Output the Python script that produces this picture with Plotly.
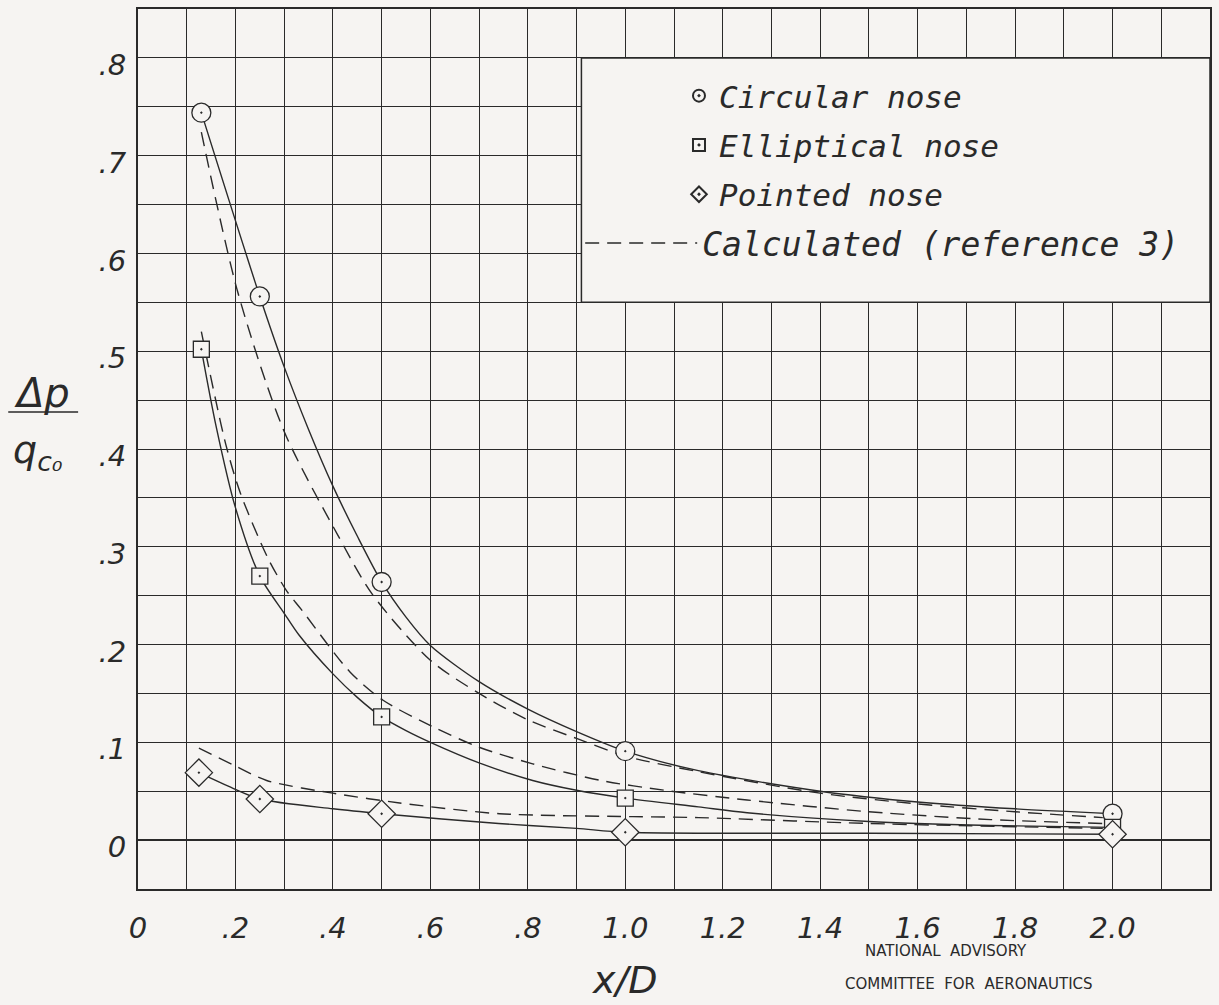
import plotly.graph_objects as go

# ---------------- data ----------------
circle_x = [0.13, 0.25, 0.50, 1.00, 2.00]
circle_y = [0.744, 0.556, 0.264, 0.091, 0.027]
square_x = [0.13, 0.25, 0.50, 1.00, 2.00]
square_y = [0.502, 0.270, 0.126, 0.043, 0.013]
diamond_x = [0.125, 0.25, 0.50, 1.00, 2.00]
diamond_y = [0.069, 0.042, 0.027, 0.008, 0.006]

# faired (solid) curves through the test points
circle_fair_x = [0.13, 0.25, 0.30, 0.35, 0.40, 0.45, 0.50, 0.55, 0.60, 0.70, 0.80, 0.90, 1.00, 1.15, 1.40, 1.60, 1.80, 2.00]
circle_fair_y = [0.744, 0.556, 0.484, 0.420, 0.362, 0.311, 0.264, 0.228, 0.199, 0.162, 0.134, 0.111, 0.091, 0.071, 0.050, 0.039, 0.032, 0.027]
square_fair_x = [0.13, 0.16, 0.20, 0.25, 0.30, 0.33, 0.40, 0.45, 0.50, 0.55, 0.60, 0.70, 0.81, 0.90, 1.00, 1.15, 1.25, 1.50, 1.75, 2.00]
square_fair_y = [0.502, 0.424, 0.340, 0.270, 0.232, 0.210, 0.170, 0.146, 0.126, 0.112, 0.100, 0.079, 0.061, 0.051, 0.043, 0.034, 0.028, 0.019, 0.015, 0.013]
diamond_fair_x = [0.125, 0.195, 0.25, 0.40, 0.50, 0.74, 0.90, 1.00, 1.50, 2.00]
diamond_fair_y = [0.069, 0.053, 0.042, 0.032, 0.027, 0.017, 0.012, 0.008, 0.007, 0.006]

# calculated (reference 3) dashed curves
circle_calc_x = [0.13, 0.205, 0.30, 0.41, 0.48, 0.60, 0.70, 0.80, 0.90, 1.00, 1.15, 1.40, 1.60, 1.80, 1.98]
circle_calc_y = [0.724, 0.560, 0.418, 0.312, 0.252, 0.184, 0.150, 0.123, 0.104, 0.086, 0.070, 0.048, 0.037, 0.029, 0.023]
square_calc_x = [0.13, 0.18, 0.21, 0.267, 0.305, 0.335, 0.435, 0.503, 0.605, 0.70, 0.81, 0.95, 1.08, 1.25, 1.50, 1.75, 1.98]
square_calc_y = [0.520, 0.405, 0.355, 0.288, 0.255, 0.236, 0.172, 0.143, 0.116, 0.095, 0.078, 0.061, 0.051, 0.041, 0.029, 0.021, 0.017]
diamond_calc_x = [0.125, 0.195, 0.264, 0.40, 0.537, 0.742, 1.015, 1.15, 1.50, 1.98]
diamond_calc_y = [0.094, 0.077, 0.061, 0.048, 0.038, 0.027, 0.024, 0.023, 0.017, 0.012]

x_tick_vals = [0, 0.2, 0.4, 0.6, 0.8, 1.0, 1.2, 1.4, 1.6, 1.8, 2.0]
x_tick_text = ["0", ".2", ".4", ".6", ".8", "1.0", "1.2", "1.4", "1.6", "1.8", "2.0"]
y_tick_vals = [0, 0.1, 0.2, 0.3, 0.4, 0.5, 0.6, 0.7, 0.8]
y_tick_text = ["0", ".1", ".2", ".3", ".4", ".5", ".6", ".7", ".8"]

# ---------------- styling ----------------
BG = "#f6f4f2"
INK = "#2a2a2a"
HAND = "DejaVu Sans"
MONO = "DejaVu Sans Mono"
W, H = 1219, 1005
ML, MR, MT, MB = 138, 7, 9, 116


def px_to_paper_x(px):
    return (px - ML) / (W - ML - MR)


def px_to_paper_y(py):
    return (H - MB - py) / (H - MT - MB)


fig = go.Figure()

for fx, fy in [(circle_fair_x, circle_fair_y), (square_fair_x, square_fair_y), (diamond_fair_x, diamond_fair_y)]:
    fig.add_trace(go.Scatter(x=fx, y=fy, mode="lines", line=dict(color=INK, width=1.4, shape="spline", smoothing=0.8),
                             showlegend=False, hoverinfo="skip"))

for i, (cx, cy) in enumerate([(circle_calc_x, circle_calc_y), (square_calc_x, square_calc_y), (diamond_calc_x, diamond_calc_y)]):
    fig.add_trace(go.Scatter(x=cx, y=cy, mode="lines", name="Calculated (reference 3)",
                             line=dict(color=INK, width=1.4, dash="14px,8px", shape="spline", smoothing=0.8),
                             legend="legend", showlegend=(i == 0)))

marker_specs = [
    ("Circular nose", circle_x, circle_y, "circle-dot", 19),
    ("Elliptical nose", square_x, square_y, "square-dot", 16),
    ("Pointed nose", diamond_x, diamond_y, "diamond-dot", 21),
]
for name, mx, my, sym, sz in marker_specs:
    fig.add_trace(go.Scatter(x=mx, y=my, mode="markers", name=name, legend="legend2", legendgroup=name,
                             marker=dict(symbol=sym, size=sz, color=BG, line=dict(color=INK, width=1.3))))

axis_font = dict(family=HAND, size=29, color=INK, style="italic")

fig.update_xaxes(range=[0, 2.2], tickvals=x_tick_vals, ticktext=x_tick_text, tickfont=axis_font,
                 showgrid=True, gridcolor=INK, gridwidth=1.3,
                 minor=dict(dtick=0.1, tick0=0, showgrid=True, gridcolor=INK, gridwidth=1.3),
                 showline=True, linecolor=INK, linewidth=2, mirror=True, ticks="",
                 zeroline=False, ticklabelstandoff=12)
fig.update_yaxes(range=[-0.05, 0.85], tickvals=y_tick_vals, ticktext=y_tick_text, tickfont=axis_font,
                 showgrid=True, gridcolor=INK, gridwidth=1.3,
                 minor=dict(dtick=0.05, tick0=0, showgrid=True, gridcolor=INK, gridwidth=1.3),
                 showline=True, linecolor=INK, linewidth=2, mirror=True, ticks="",
                 zeroline=True, zerolinecolor=INK, zerolinewidth=2.4,
                 ticklabelstandoff=4, ticklabelshift=7)

# blank legend panel (grid removed inside it)
fig.add_shape(type="rect", xref="x", yref="y", x0=0.91, x1=2.2, y0=0.55, y1=0.80,
              fillcolor=BG, line=dict(color=INK, width=1.5), layer="above")

# y-axis title: Δp / q_c0 as a hand-lettered fraction
fig.add_annotation(text="<i>Δp</i>", xref="paper", yref="paper", x=px_to_paper_x(42), y=px_to_paper_y(393),
                   xanchor="center", yanchor="middle", showarrow=False,
                   font=dict(family=HAND, size=40, color=INK))
fig.add_shape(type="line", xref="paper", yref="paper", x0=px_to_paper_x(8), x1=px_to_paper_x(78),
              y0=px_to_paper_y(412), y1=px_to_paper_y(412), line=dict(color=INK, width=1.6))
fig.add_annotation(text="<i>q<sub>c₀</sub></i>", xref="paper", yref="paper", x=px_to_paper_x(38), y=px_to_paper_y(452),
                   xanchor="center", yanchor="middle", showarrow=False,
                   font=dict(family=HAND, size=38, color=INK))

# x-axis title
fig.add_annotation(text="<i>x/D</i>", xref="paper", yref="paper", x=px_to_paper_x(626), y=px_to_paper_y(980),
                   xanchor="center", yanchor="middle", showarrow=False,
                   font=dict(family=HAND, size=38, color=INK))

# NACA credit
fig.add_annotation(text="NATIONAL  ADVISORY", xref="paper", yref="paper", x=px_to_paper_x(948), y=px_to_paper_y(951),
                   xanchor="center", yanchor="middle", showarrow=False,
                   font=dict(family="DejaVu Sans", size=15, color=INK))
fig.add_annotation(text="COMMITTEE  FOR  AERONAUTICS", xref="paper", yref="paper", x=px_to_paper_x(971), y=px_to_paper_y(984),
                   xanchor="center", yanchor="middle", showarrow=False,
                   font=dict(family="DejaVu Sans", size=15, color=INK))

fig.update_layout(
    width=W, height=H,
    margin=dict(l=ML, r=MR, t=MT, b=MB, pad=0),
    paper_bgcolor=BG, plot_bgcolor=BG,
    showlegend=True,
    legend=dict(x=px_to_paper_x(581), y=px_to_paper_y(215), xanchor="left", yanchor="top",
                bgcolor="rgba(0,0,0,0)", borderwidth=0, itemwidth=112,
                font=dict(family=MONO, size=33, color=INK, style="italic"), itemclick=False),
    legend2=dict(x=px_to_paper_x(680), y=px_to_paper_y(69), xanchor="left", yanchor="top",
                 bgcolor="rgba(0,0,0,0)", borderwidth=0, itemwidth=30, itemsizing="constant",
                 traceorder="grouped", tracegroupgap=6,
                 font=dict(family=MONO, size=31, color=INK, style="italic"), itemclick=False),
)

fig.write_html("out.html")
